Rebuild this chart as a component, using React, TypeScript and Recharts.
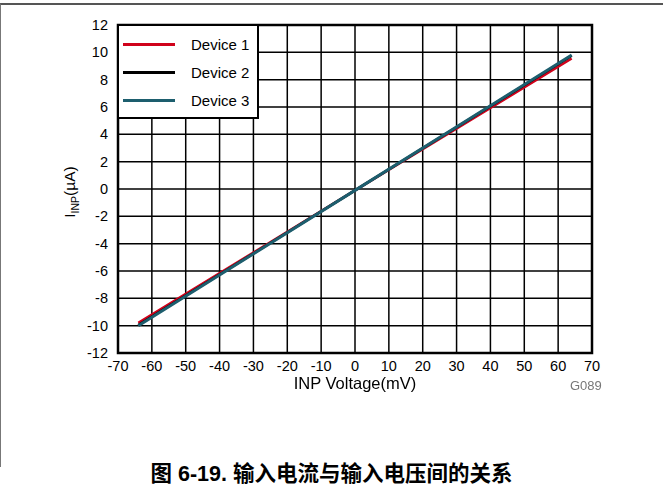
import React from "react";
import {
  CartesianGrid,
  Line,
  LineChart,
  ReferenceArea,
  XAxis,
  YAxis,
} from "recharts";

// INP voltage (mV) at the sampled points
const voltage = [-64, 0, 64];
// Input current (µA) per device
const device1 = [-9.8, -0.1, 9.55];
const device2 = [-9.95, -0.1, 9.75];
const device3 = [-10.0, -0.1, 9.8];

const xTicks = [-70, -60, -50, -40, -30, -20, -10, 0, 10, 20, 30, 40, 50, 60, 70];
const yTicks = [-12, -10, -8, -6, -4, -2, 0, 2, 4, 6, 8, 10, 12];

const seriesNames = ["Device 1", "Device 2", "Device 3"];
const seriesColors = ["#d0021b", "#000000", "#1d5e6e"];

const rows = voltage.map((v, i) => ({
  v,
  d1: device1[i],
  d2: device2[i],
  d3: device3[i],
}));

const font = "'Liberation Sans', Arial, sans-serif";

function YLabel() {
  return (
    <text
      transform="translate(75,192) rotate(-90)"
      textAnchor="middle"
      fontFamily={font}
      fontSize={15.5}
      fill="#000"
    >
      I
      <tspan fontSize={10.5} dy={4}>
        INP
      </tspan>
      <tspan dy={-4}>(µA)</tspan>
    </text>
  );
}

export default function App() {
  return (
    <div
      style={{
        position: "fixed",
        left: 0,
        top: 0,
        width: 663,
        height: 494,
        background: "#fff",
        fontFamily: font,
      }}
    >
      <div
        style={{
          position: "absolute",
          left: 0,
          top: 3,
          width: 663,
          height: 464,
          borderTop: "2px solid #555",
          borderLeft: "1px solid #777",
          boxSizing: "border-box",
        }}
      />
      <LineChart
        width={663}
        height={494}
        data={rows}
        margin={{ top: 25, right: 71, left: 0, bottom: 111 }}
      >
        <CartesianGrid stroke="#000" strokeWidth={1.5} />
        <XAxis
          dataKey="v"
          type="number"
          domain={[-70, 70]}
          ticks={xTicks}
          interval={0}
          height={30}
          tickLine={false}
          axisLine={false}
          tick={{ fill: "#000", fontSize: 14.5, fontFamily: font }}
          tickMargin={2}
        />
        <YAxis
          type="number"
          domain={[-12, 12]}
          ticks={yTicks}
          interval={0}
          width={118}
          tickLine={false}
          axisLine={false}
          tick={{ fill: "#000", fontSize: 14.5, fontFamily: font }}
          tickMargin={4}
          label={<YLabel />}
        />
        <ReferenceArea
          x1={-70}
          x2={70}
          y1={-12}
          y2={12}
          fill="none"
          stroke="#000"
          strokeWidth={2.5}
          ifOverflow="visible"
        />
        <Line
          dataKey="d1"
          stroke={seriesColors[0]}
          strokeWidth={2.5}
          dot={false}
          isAnimationActive={false}
        />
        <Line
          dataKey="d2"
          stroke={seriesColors[1]}
          strokeWidth={2.5}
          dot={false}
          isAnimationActive={false}
        />
        <Line
          dataKey="d3"
          stroke={seriesColors[2]}
          strokeWidth={3}
          dot={false}
          isAnimationActive={false}
        />
      </LineChart>

      {/* legend box in the upper-left of the plot */}
      <div
        style={{
          position: "absolute",
          left: 117,
          top: 24,
          width: 142,
          height: 95,
          background: "#fff",
          border: "2.5px solid #000",
          boxSizing: "border-box",
        }}
      >
        {seriesNames.map((name, i) => (
          <div
            key={name}
            style={{
              position: "absolute",
              left: 4,
              top: 8 + i * 28,
              height: 20,
              display: "flex",
              alignItems: "center",
            }}
          >
            <div
              style={{
                width: 52,
                height: 3,
                background: seriesColors[i],
                marginRight: 16,
              }}
            />
            <span style={{ fontSize: 15, color: "#000" }}>{name}</span>
          </div>
        ))}
      </div>

      <div
        style={{
          position: "absolute",
          left: 0,
          width: 710,
          top: 374,
          textAlign: "center",
          fontSize: 16.5,
          color: "#000",
        }}
      >
        INP Voltage(mV)
      </div>
      <div
        style={{
          position: "absolute",
          left: 570,
          top: 378,
          fontSize: 13,
          color: "#777",
        }}
      >
        G089
      </div>
      <div
        style={{
          position: "absolute",
          left: 0,
          width: 663,
          top: 456,
          textAlign: "center",
          fontSize: 21.5,
          fontWeight: "bold",
          fontFamily: "'Liberation Sans', 'Noto Sans CJK SC', sans-serif",
          color: "#000",
        }}
      >
        图 6-19. 输入电流与输入电压间的关系
      </div>
    </div>
  );
}
